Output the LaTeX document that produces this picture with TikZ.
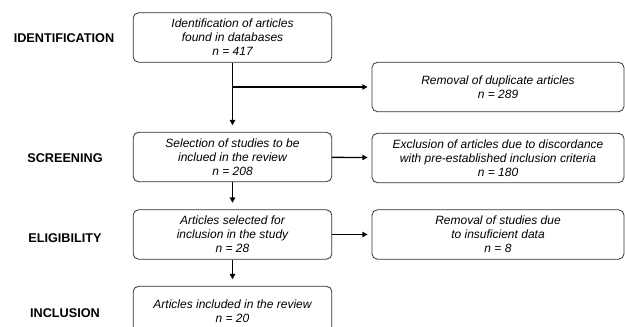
\documentclass[tikz,border=0pt]{standalone}
\usepackage{fontspec}
\setmainfont{Liberation Sans}
\usetikzlibrary{arrows.meta, positioning}

\begin{document}
\begin{tikzpicture}[x=0.75pt, y=-0.75pt,
        stage/.style={font=\bfseries\fontsize{9.5}{12}\selectfont},
        box/.style={draw=black!80, line width=0.6pt, rounded corners=4pt, align=center,
            inner sep=0pt, font=\itshape\fontsize{9}{10.5}\selectfont},
        mainbox/.style={box, minimum width=149pt, minimum height=37pt},
        sidebox/.style={box, minimum width=189pt, minimum height=37pt},
        flow/.style={-{Triangle[length=4pt, width=4pt]}, line width=1pt},
        down/.style={flow, shorten >=5pt},
        side/.style={flow, shorten >=3pt}]
        \useasboundingbox (0,0) rectangle (625,327);

        % phases
        \node[stage] at (64, 38) (lident) {IDENTIFICATION};
        \node[stage] at (65, 158) (lscreen) {SCREENING};
        \node[stage] at (65, 238) (lelig) {ELIGIBILITY};
        \node[stage] at (65, 313) (lincl) {INCLUSION};

        % main column
        \node[mainbox] at (232.5, 37.5) (ident) {Identification of articles\\found in databases\\n = 417};
        \node[mainbox] at (232.5, 157) (select) {Selection of studies to be\\inclued in the review\\n = 208};
        \node[mainbox] at (232.5, 234.5) (elig) {Articles selected for\\inclusion in the study\\n = 28};
        \node[mainbox] at (232.5, 311) (incl) {Articles included in the review\\n = 20};

        % excluded
        \node[sidebox] at (498, 87) (dupl) {Removal of duplicate articles\\n = 289};
        \node[sidebox] at (498, 158) (excl) {Exclusion of articles due to discordance\\with pre-established inclusion criteria\\n = 180};
        \node[sidebox] at (498, 234.5) (insuf) {Removal of studies due\\to insuficient data\\n = 8};

        \draw[down] (ident) -- (select);
        \draw[side] (ident.south |- dupl.west) -- (dupl.west);
        \draw[down] (select) -- (elig);
        \draw[down] (elig) -- (incl);
        \draw[side] (select) -- (excl);
        \draw[side] (elig) -- (insuf);
    \end{tikzpicture}
\end{document}
